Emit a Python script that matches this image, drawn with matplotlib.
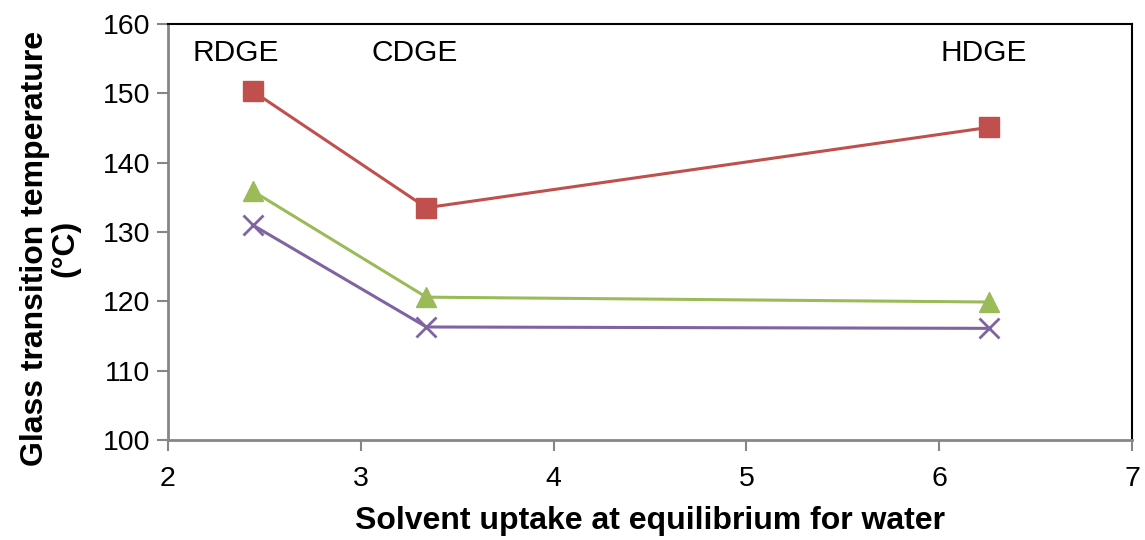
import matplotlib.pyplot as plt

plt.rcParams['font.family'] = ['Liberation Sans', 'DejaVu Sans']

# solvent uptake (x) and Tg values for the three series
uptake = [2.44, 3.34, 6.26]
tg_red = [150.3, 133.5, 145.1]
tg_green = [135.9, 120.6, 119.9]
tg_purple = [131.0, 116.3, 116.1]
labels = ['RDGE', 'CDGE', 'HDGE']
label_x = [2.35, 3.28, 6.23]

fig = plt.figure(figsize=(11.45, 5.4), dpi=100)
ax = fig.add_axes([0.1467, 0.1852, 0.8421, 0.7704])

ax.plot(uptake, tg_red, color='#C0504D', lw=2.2, marker='s', ms=14)
ax.plot(uptake, tg_green, color='#9BBB59', lw=2.2, marker='^', ms=15)
ax.plot(uptake, tg_purple, color='#8064A2', lw=2.2, marker='x', ms=14, mew=2)

for lx, lab in zip(label_x, labels):
    ax.text(lx, 155.8, lab, fontsize=21.5, ha='center', va='center')

ax.set_xlim(2, 7)
ax.set_ylim(100, 160)
ax.set_xticks(range(2, 8))
ax.set_yticks(range(100, 161, 10))
ax.tick_params(labelsize=20.5, length=8, width=1.5, color='#868686')
ax.tick_params(axis='x', pad=11)
ax.tick_params(axis='y', pad=5)

for s in ['left', 'bottom']:
    ax.spines[s].set_color('#868686')
    ax.spines[s].set_linewidth(2)
for s in ['top', 'right']:
    ax.spines[s].set_color('black')
    ax.spines[s].set_linewidth(1.5)

ax.set_xlabel('Solvent uptake at equilibrium for water', fontsize=23, fontweight='bold', labelpad=10)
ax.set_ylabel('Glass transition temperature\n(°C)', fontsize=23, fontweight='bold', linespacing=1.0)
ax.yaxis.set_label_coords(-0.091, 0.4615)

fig.savefig('out.png', dpi=100)
